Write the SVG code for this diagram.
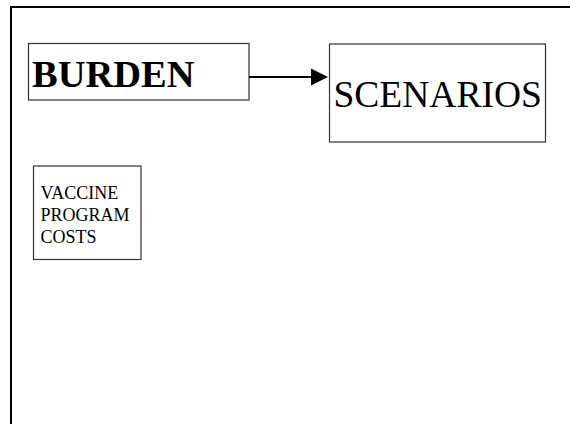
<svg xmlns="http://www.w3.org/2000/svg" width="570" height="424" viewBox="0 0 570 424">
<style>
.box{fill:#fff;stroke:#333;stroke-width:1.2}
.t{font-family:"Liberation Serif","Times New Roman",serif;fill:#000}
</style>
<rect width="570" height="424" fill="#fff"/>
<g id="frame"><path d="M11,424 V7 H570" fill="none" stroke="#000" stroke-width="2"/></g>
<g id="burden">
<rect class="box" x="28.5" y="43.5" width="220.5" height="56.5"/>
<text class="t" x="32" y="86.5" font-size="38.5" font-weight="bold">BURDEN</text>
</g>
<g id="scenarios">
<rect class="box" x="329.5" y="44" width="216" height="98"/>
<text class="t" x="333.5" y="106.5" font-size="37.5">SCENARIOS</text>
</g>
<g id="vaccine">
<rect class="box" x="33.5" y="166" width="107.5" height="93.5"/>
<text class="t" font-size="18"><tspan x="40.5" y="199.3">VACCINE</tspan><tspan x="40.5" y="221">PROGRAM</tspan><tspan x="40.5" y="242.7">COSTS</tspan></text>
</g>
<g id="connectors">
<line x1="249" y1="77" x2="312" y2="77" stroke="#000" stroke-width="2"/>
<polygon points="311,68.5 328,77 311,85.5" fill="#000"/>
</g>
</svg>
